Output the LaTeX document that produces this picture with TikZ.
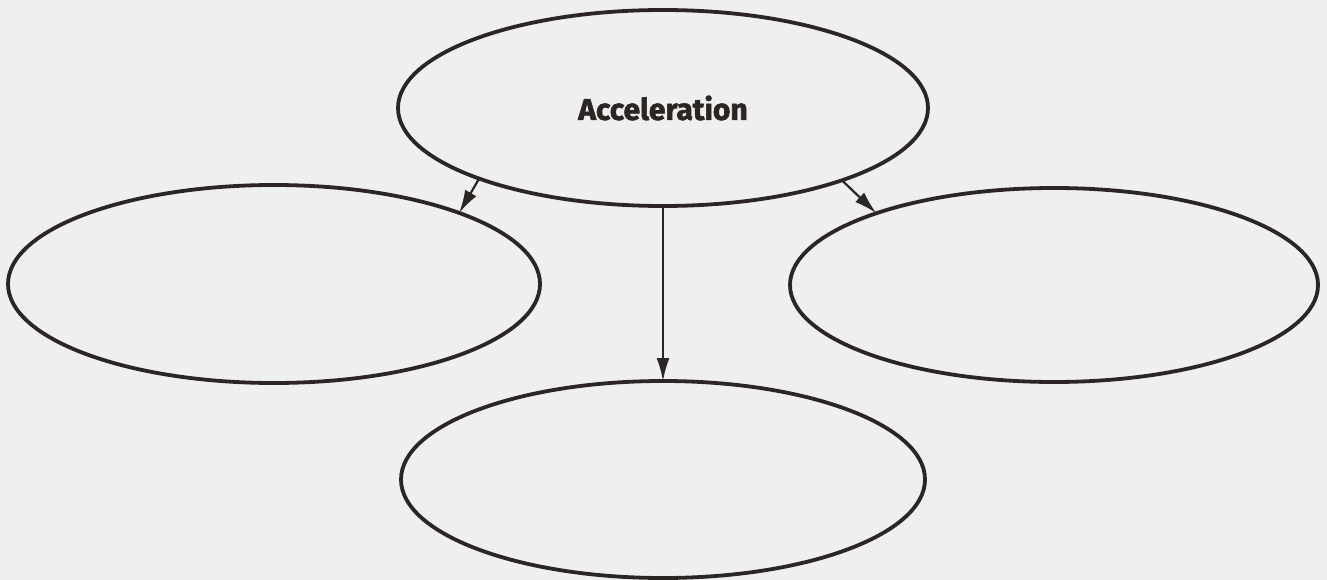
\documentclass[tikz,border=0pt]{standalone}
\usepackage{fontspec}
\newfontfamily\accfont[FakeBold=2]{Fira Sans}
\usetikzlibrary{arrows.meta,shapes.geometric}
\definecolor{ink}{HTML}{2B2523}
\definecolor{paper}{HTML}{EFEFEF}
\tikzset{
  bubble/.style={draw=ink, line width=3.8pt, ellipse, inner sep=0pt, outer sep=0pt},
  link/.style={draw=ink, line width=2.2pt, -{Latex[length=23pt,width=13pt]}},
}
\begin{document}
\begin{tikzpicture}[x=1pt,y=-1pt]
\fill[paper] (0,0) rectangle (1327,580);
\useasboundingbox (0,0) rectangle (1327,580);
\node[bubble, minimum width=530pt, minimum height=196pt, text=ink,
      font=\accfont\bfseries\fontsize{30}{30}\selectfont] (acc) at (663,108) {Acceleration};
\node[bubble, minimum width=532pt, minimum height=198pt] (left) at (274,284) {};
\node[bubble, minimum width=528pt, minimum height=194pt] (right) at (1054,285) {};
\node[bubble, minimum width=524pt, minimum height=197pt] (bottom) at (663,479.5) {};
\draw[link] (acc.201.75) -- (left.21.7);
\draw[link] (acc.south) -- (bottom.north);
\draw[link] (acc.-22) -- (right.158);
\end{tikzpicture}
\end{document}
